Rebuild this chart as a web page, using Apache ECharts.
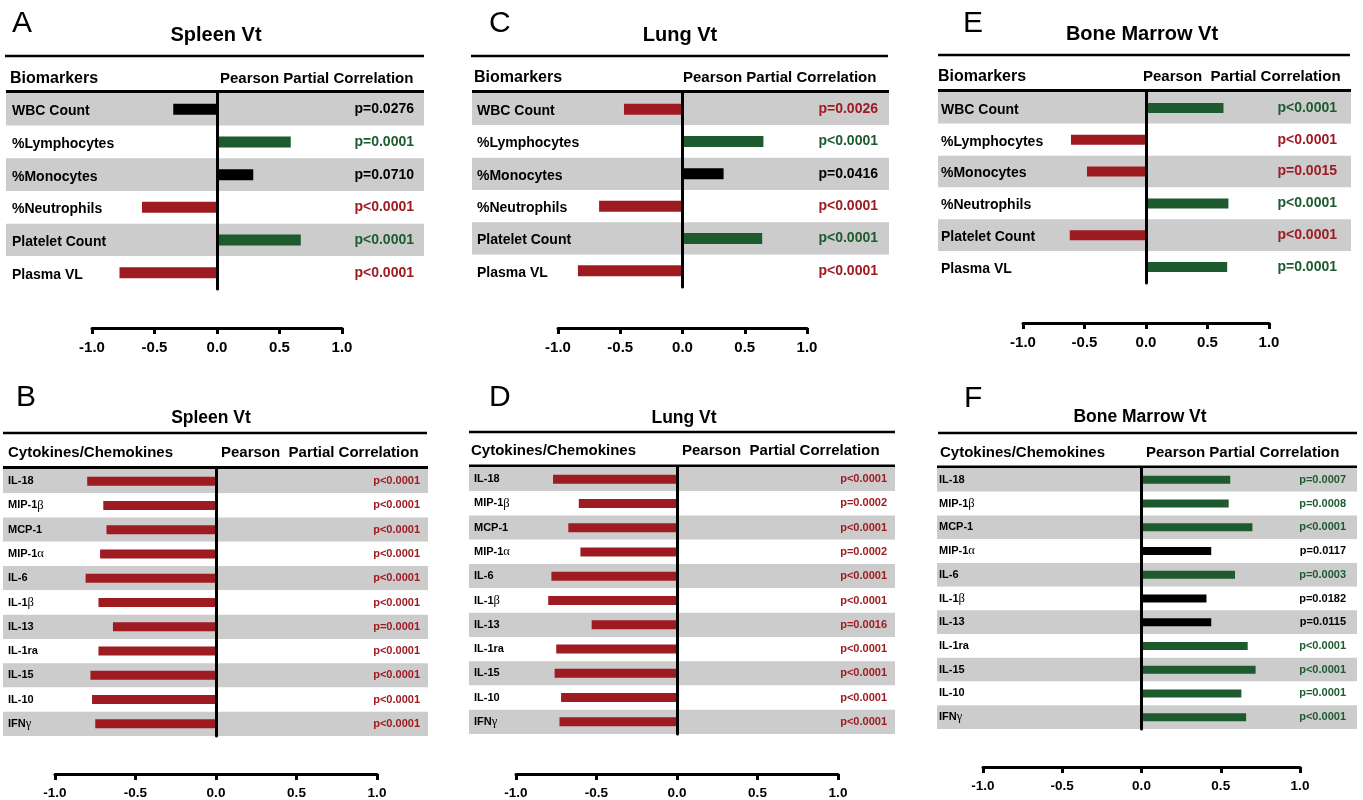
<!DOCTYPE html>
<html><head><meta charset="utf-8">
<script src="https://cdn.jsdelivr.net/npm/echarts@6.0.0/dist/echarts.min.js"></script>
<style>html,body{margin:0;padding:0;background:#fff}#c{width:1363px;height:800px}</style>
</head><body><div id="c"></div>
<script>
// ---------- data ----------
const biomarkers = ['WBC Count', '%Lymphocytes', '%Monocytes', '%Neutrophils', 'Platelet Count', 'Plasma VL'];
const cytokines = ['IL-18', 'MIP-1β', 'MCP-1', 'MIP-1α', 'IL-6', 'IL-1β', 'IL-13', 'IL-1ra', 'IL-15', 'IL-10', 'IFNγ'];
const axisTicks = [-1.0, -0.5, 0.0, 0.5, 1.0];

const spleenBioR = [-0.35, 0.59, 0.29, -0.60, 0.67, -0.78];
const spleenBioP = ['p=0.0276', 'p=0.0001', 'p=0.0710', 'p<0.0001', 'p<0.0001', 'p<0.0001'];
const spleenBioSig = [0, 1, 0, 1, 1, 1];

const lungBioR = [-0.47, 0.65, 0.33, -0.67, 0.64, -0.84];
const lungBioP = ['p=0.0026', 'p<0.0001', 'p=0.0416', 'p<0.0001', 'p<0.0001', 'p<0.0001'];
const lungBioSig = [1, 1, 0, 1, 1, 1];

const bmBioR = [0.63, -0.61, -0.48, 0.67, -0.62, 0.66];
const bmBioP = ['p<0.0001', 'p<0.0001', 'p=0.0015', 'p<0.0001', 'p<0.0001', 'p=0.0001'];
const bmBioSig = [1, 1, 1, 1, 1, 1];

const spleenCytR = [-0.80, -0.70, -0.68, -0.72, -0.81, -0.73, -0.64, -0.73, -0.78, -0.77, -0.75];
const spleenCytP = ['p<0.0001', 'p<0.0001', 'p<0.0001', 'p<0.0001', 'p<0.0001', 'p<0.0001', 'p=0.0001', 'p<0.0001', 'p<0.0001', 'p<0.0001', 'p<0.0001'];
const spleenCytSig = [1, 1, 1, 1, 1, 1, 1, 1, 1, 1, 1];

const lungCytR = [-0.77, -0.61, -0.675, -0.60, -0.78, -0.80, -0.53, -0.75, -0.76, -0.72, -0.73];
const lungCytP = ['p<0.0001', 'p=0.0002', 'p<0.0001', 'p=0.0002', 'p<0.0001', 'p<0.0001', 'p=0.0016', 'p<0.0001', 'p<0.0001', 'p<0.0001', 'p<0.0001'];
const lungCytSig = [1, 1, 1, 1, 1, 1, 1, 1, 1, 1, 1];

const bmCytR = [0.56, 0.55, 0.70, 0.44, 0.59, 0.41, 0.44, 0.67, 0.72, 0.63, 0.66];
const bmCytP = ['p=0.0007', 'p=0.0008', 'p<0.0001', 'p=0.0117', 'p=0.0003', 'p=0.0182', 'p=0.0115', 'p<0.0001', 'p<0.0001', 'p=0.0001', 'p<0.0001'];
const bmCytSig = [1, 1, 1, 0, 1, 0, 0, 1, 1, 1, 1];

// ---------- styles / layout ----------
const RED = '#9E1B22', GREEN = '#1D5B2F', BLACK = '#000000', GRAY = '#CCCCCC';
const FONT = '"Liberation Sans", Arial, Helvetica, sans-serif';

function colorFor(v, s) { return s ? (v > 0 ? GREEN : RED) : BLACK; }
function codeFor(v, s) { return s ? (v > 0 ? 'g' : 'r') : 'k'; }

const panels = [
  { letter: 'A', title: 'Spleen Vt', head: 'Biomarkers', head2: 'Pearson Partial Correlation',
    rows: biomarkers, r: spleenBioR, p: spleenBioP, sig: spleenBioSig,
    L: { lx: 12, ly: 23.5, tx: 216, ty: 35, ts: 20, topY: 56, x1: 5, x2: 424, hy: 78.5, hx: 10, h2x: 220, hs: 16, h2s: 15,
         hlY: 91.5, tL: 6, tR: 424, tT: 93, tH: 196, aL: 92, aR: 342, aY: 328, lm: 6, pm: 10, ls: 14, ps: 14, ks: 15, bw: 11, lp: 2 } },
  { letter: 'C', title: 'Lung Vt', head: 'Biomarkers', head2: 'Pearson Partial Correlation',
    rows: biomarkers, r: lungBioR, p: lungBioP, sig: lungBioSig,
    L: { lx: 489, ly: 23.5, tx: 680, ty: 35, ts: 20, topY: 56, x1: 471, x2: 888, hy: 77.5, hx: 474, h2x: 683, hs: 16, h2s: 15,
         hlY: 91.5, tL: 472, tR: 889, tT: 93, tH: 194, aL: 558, aR: 807, aY: 328, lm: 5, pm: 11, ls: 14, ps: 14, ks: 15, bw: 11, lp: 2 } },
  { letter: 'E', title: 'Bone Marrow Vt', head: 'Biomarkers', head2: 'Pearson  Partial Correlation',
    rows: biomarkers, r: bmBioR, p: bmBioP, sig: bmBioSig,
    L: { lx: 963, ly: 23.5, tx: 1142, ty: 34, ts: 20, topY: 55, x1: 938, x2: 1350, hy: 76.5, hx: 938, h2x: 1143, hs: 16, h2s: 15,
         hlY: 90.5, tL: 938, tR: 1351, tT: 92, tH: 191, aL: 1023, aR: 1269, aY: 323, lm: 3, pm: 14, ls: 14, ps: 14, ks: 15, bw: 10, lp: 2 } },
  { letter: 'B', title: 'Spleen Vt', head: 'Cytokines/Chemokines', head2: 'Pearson  Partial Correlation',
    rows: cytokines, r: spleenCytR, p: spleenCytP, sig: spleenCytSig,
    L: { lx: 16, ly: 398, tx: 211, ty: 418, ts: 17.5, topY: 433, x1: 3, x2: 427, hy: 453, hx: 8, h2x: 221, hs: 15, h2s: 15,
         hlY: 467.5, tL: 3, tR: 428, tT: 469, tH: 267, aL: 55, aR: 377, aY: 774, lm: 5, pm: 8, ls: 11, ps: 11, ks: 13.5, bw: 9, lp: 0 } },
  { letter: 'D', title: 'Lung Vt', head: 'Cytokines/Chemokines', head2: 'Pearson  Partial Correlation',
    rows: cytokines, r: lungCytR, p: lungCytP, sig: lungCytSig,
    L: { lx: 489, ly: 398, tx: 684, ty: 418, ts: 17.5, topY: 432, x1: 469, x2: 895, hy: 451, hx: 471, h2x: 682, hs: 15, h2s: 15,
         hlY: 466, tL: 469, tR: 895, tT: 467, tH: 267, aL: 516, aR: 838, aY: 774, lm: 5, pm: 8, ls: 11, ps: 11, ks: 13.5, bw: 9, lp: 0 } },
  { letter: 'F', title: 'Bone Marrow Vt', head: 'Cytokines/Chemokines', head2: 'Pearson Partial Correlation',
    rows: cytokines, r: bmCytR, p: bmCytP, sig: bmCytSig,
    L: { lx: 964, ly: 399, tx: 1140, ty: 417, ts: 17.5, topY: 433, x1: 938, x2: 1357, hy: 452.5, hx: 940, h2x: 1146, hs: 15, h2s: 15,
         hlY: 467, tL: 937, tR: 1357, tT: 468, tH: 261, aL: 983, aR: 1300, aY: 767, lm: 2, pm: 11, ls: 11, ps: 11, ks: 13.5, bw: 8, lp: 0 } }
];

// ---------- build option ----------
const grid = [], xAxis = [], yAxis = [], series = [], graphic = [];

function txt(text, x, y, font, align) {
  graphic.push({ type: 'text', x: x, y: y, silent: true,
    style: { text: text, font: font, fill: '#000', textAlign: align || 'left', textVerticalAlign: 'middle' } });
}
function hline(x1, x2, y, w) {
  graphic.push({ type: 'line', silent: true, shape: { x1: x1, y1: y, x2: x2, y2: y },
    style: { stroke: '#000', lineWidth: w } });
}

panels.forEach(P => {
  const L = P.L;
  // decorations
  txt(P.letter, L.lx, L.ly, 'normal 30px ' + FONT, 'left');
  txt(P.title, L.tx, L.ty, 'bold ' + L.ts + 'px ' + FONT, 'center');
  txt(P.head, L.hx, L.hy, 'bold ' + L.hs + 'px ' + FONT, 'left');
  txt(P.head2, L.h2x, L.hy, 'bold ' + L.h2s + 'px ' + FONT, 'left');
  hline(L.x1, L.x2, L.topY, 2.5);
  hline(L.tL, L.tR, L.hlY, 3);

  // table grid (row bands + labels + p-values)
  const gT = grid.length;
  grid.push({ left: L.tL, top: L.tT, width: L.tR - L.tL, height: L.tH, outerBoundsMode: 'none', containLabel: false });
  xAxis.push({ gridIndex: gT, type: 'value', min: 0, max: 1, show: false });
  yAxis.push({ gridIndex: gT, type: 'category', inverse: true, data: P.rows, position: 'left',
    axisLine: { show: false }, axisTick: { show: false }, splitLine: { show: false },
    splitArea: { show: true, areaStyle: { color: [GRAY, '#FFFFFF'] } },
    axisLabel: { inside: true, interval: 0, margin: L.lm, fontSize: L.ls, fontWeight: 'bold', fontFamily: FONT, color: '#000',
      padding: [L.lp * 2, 0, 0, 0],
      formatter: v => v.replace(/([αβγ])/g, '{gk|$1}'),
      rich: { gk: { fontFamily: '"Liberation Serif", "DejaVu Serif", serif', fontWeight: 'normal', fontSize: L.ls + 1.5, color: '#000' } } } });
  yAxis.push({ gridIndex: gT, type: 'category', inverse: true, data: P.rows, position: 'right',
    axisLine: { show: false }, axisTick: { show: false }, splitLine: { show: false },
    axisLabel: { inside: true, interval: 0, margin: L.pm,
      formatter: (v, i) => '{' + codeFor(P.r[i], P.sig[i]) + '|' + P.p[i] + '}',
      rich: {
        r: { color: RED, fontSize: L.ps, fontWeight: 'bold', fontFamily: FONT },
        g: { color: GREEN, fontSize: L.ps, fontWeight: 'bold', fontFamily: FONT },
        k: { color: BLACK, fontSize: L.ps, fontWeight: 'bold', fontFamily: FONT }
      } } });

  // bar grid
  const gB = grid.length;
  grid.push({ left: L.aL, top: L.tT, width: L.aR - L.aL, height: L.tH, outerBoundsMode: 'none', containLabel: false });
  const xB = xAxis.length;
  xAxis.push({ gridIndex: gB, type: 'value', min: axisTicks[0], max: axisTicks[axisTicks.length - 1], interval: 0.5,
    position: 'bottom', offset: L.aY - (L.tT + L.tH),
    axisLine: { show: true, onZero: false, lineStyle: { color: '#000', width: 3 } },
    axisTick: { show: true, length: 6, lineStyle: { color: '#000', width: 3 } },
    splitLine: { show: false },
    axisLabel: { show: true, margin: 12, fontSize: L.ks, fontWeight: 'bold', fontFamily: FONT, color: '#000',
      showMinLabel: true, showMaxLabel: true, formatter: v => (+v).toFixed(1) } });
  const yB = yAxis.length;
  yAxis.push({ gridIndex: gB, type: 'category', inverse: true, data: P.rows, z: 10,
    axisLine: { show: true, onZero: true, lineStyle: { color: '#000', width: 3 } },
    axisTick: { show: false }, axisLabel: { show: false }, splitLine: { show: false } });

  series.push({ type: 'bar', xAxisIndex: xB, yAxisIndex: yB, barWidth: L.bw, silent: true, animation: false,
    data: P.r.map((v, i) => ({ value: v, itemStyle: { color: colorFor(v, P.sig[i]) } })) });
});

const chart = echarts.init(document.getElementById('c'), null, { renderer: 'canvas' });
chart.setOption({ animation: false, backgroundColor: '#fff', grid, xAxis, yAxis, series, graphic });
</script>
</body></html>
